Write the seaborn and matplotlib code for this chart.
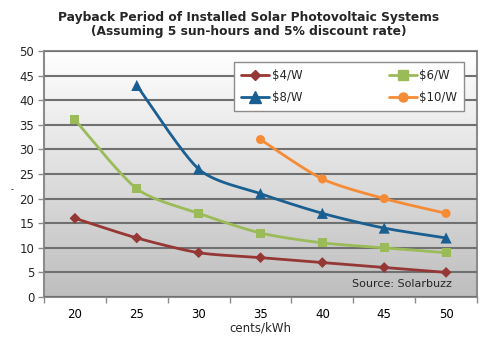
import numpy as np
import pandas as pd
import matplotlib
matplotlib.use("Agg")
import matplotlib.pyplot as plt
import seaborn as sns

# Electricity price (cents/kWh) and payback years per installed cost
prices = [20, 25, 30, 35, 40, 45, 50]
cost_4 = [16, 12, 9, 8, 7, 6, 5]
cost_6 = [36, 22, 17, 13, 11, 10, 9]
cost_8 = [np.nan, 43, 26, 21, 17, 14, 12]
cost_10 = [np.nan, np.nan, np.nan, 32, 24, 20, 17]
series_names = ["$4/W", "$6/W", "$8/W", "$10/W"]
series_vals = [cost_4, cost_6, cost_8, cost_10]
colors = ["#953735", "#9bbb59", "#1a5f91", "#f68b35"]
markers = ["D", "s", "^", "o"]
msizes = [5.5, 6.5, 8, 6.5]

sns.set_theme(style="white")
plt.rcParams["font.family"] = ["DejaVu Sans"]

fig = plt.figure(figsize=(5, 3.42), dpi=100)
ax = fig.add_axes([44 / 500, 1 - 297 / 342, 433 / 500, 246 / 342])

# Gradient plot background, white at the top, grey at the bottom
grad = np.linspace(0, 1, 256).reshape(-1, 1)
cmap = matplotlib.colors.LinearSegmentedColormap.from_list("bg", ["#ffffff", "#bebebe"])
ax.imshow(grad, aspect="auto", cmap=cmap, extent=[-0.5, 6.5, 0, 50], origin="upper", zorder=0)


def smooth(xs, ys, n=30, k=8.0):
    """Bezier smoothing through the given points."""
    pts = np.column_stack([xs, ys])
    out = []
    for i in range(len(pts) - 1):
        p0 = pts[i - 1] if i > 0 else pts[i]
        p1 = pts[i]
        p2 = pts[i + 1]
        p3 = pts[i + 2] if i + 2 < len(pts) else pts[i + 1]
        c1 = p1 + (p2 - p0) / k
        c2 = p2 - (p3 - p1) / k
        t = np.linspace(0, 1, n)[:, None]
        seg = ((1 - t) ** 3) * p1 + 3 * ((1 - t) ** 2) * t * c1 + 3 * (1 - t) * t ** 2 * c2 + t ** 3 * p2
        out.append(seg if i == 0 else seg[1:])
    return np.vstack(out)


rows = []
for name, vals in zip(series_names, series_vals):
    for i, v in enumerate(vals):
        rows.append({"idx": i, "years": v, "series": name})
df = pd.DataFrame(rows).dropna()

handles = {}
for name, col, mk, ms in zip(series_names, colors, markers, msizes):
    sub = df[df["series"] == name]
    curve = smooth(sub["idx"].to_numpy(float), sub["years"].to_numpy(float))
    ax.plot(curve[:, 0], curve[:, 1], color=col, lw=2.0, zorder=3, solid_capstyle="round")
    handles[name], = ax.plot([], [], color=col, lw=2.0, marker=mk, markersize=ms, label=name)

sns.scatterplot(data=df, x="idx", y="years", hue="series", style="series",
                palette=dict(zip(series_names, colors)),
                markers=dict(zip(series_names, markers)),
                size="series", sizes=dict(zip(series_names, [m ** 2 for m in msizes])),
                edgecolor="none", legend=False, zorder=4, ax=ax)

ax.set_xlim(-0.5, 6.5)
ax.set_ylim(0, 50)
ax.set_yticks(range(0, 51, 5))
ax.set_xticks(range(len(prices)))
ax.set_xticklabels([str(p) for p in prices])
ax.set_xticks(np.arange(-0.5, 7, 1), minor=True)
ax.grid(axis="y", color="#707070", lw=1.5, zorder=1)
ax.set_axisbelow(False)
for s in ax.spines.values():
    s.set_color("#8c8c8c")
    s.set_linewidth(1.5)
ax.tick_params(axis="x", which="major", length=0, pad=8, labelsize=8.5, colors="#000000")
ax.tick_params(axis="x", which="minor", length=4, width=1, color="#8c8c8c", direction="out", bottom=True)
ax.tick_params(axis="y", which="major", length=4, width=1, color="#8c8c8c", direction="out", left=True,
               labelsize=8.5, pad=3)
ax.set_xlabel("cents/kWh", fontsize=8.5, labelpad=0)
ax.set_ylabel("")
fig.text(12 / 500, 1 - 190 / 342, "-", fontsize=6, ha="center", va="center")

ax.text(6.1, 2.7, "Source: Solarbuzz", fontsize=8, ha="right", va="center", zorder=5)

fig.text(0.497, 1 - 17 / 342, "Payback Period of Installed Solar Photovoltaic Systems",
         ha="center", va="center", fontsize=8.8, fontweight="bold")
fig.text(0.497, 1 - 31 / 342, "(Assuming 5 sun-hours and 5% discount rate)",
         ha="center", va="center", fontsize=8.8, fontweight="bold")

order = ["$4/W", "$8/W", "$6/W", "$10/W"]
leg = ax.legend([handles[n] for n in order], order,
                loc="upper left", bbox_to_anchor=(234 / 500, 1 - 62 / 342),
                bbox_transform=fig.transFigure, ncol=2, frameon=True, fancybox=False,
                edgecolor="#8c8c8c", framealpha=1, fontsize=8.5, handlelength=2.4,
                handletextpad=0.2, columnspacing=7.3, borderpad=0.6, labelspacing=0.75,
                borderaxespad=0)
leg.get_frame().set_linewidth(1.0)
leg.set_zorder(6)

fig.savefig("out.png", dpi=100, facecolor="white")
